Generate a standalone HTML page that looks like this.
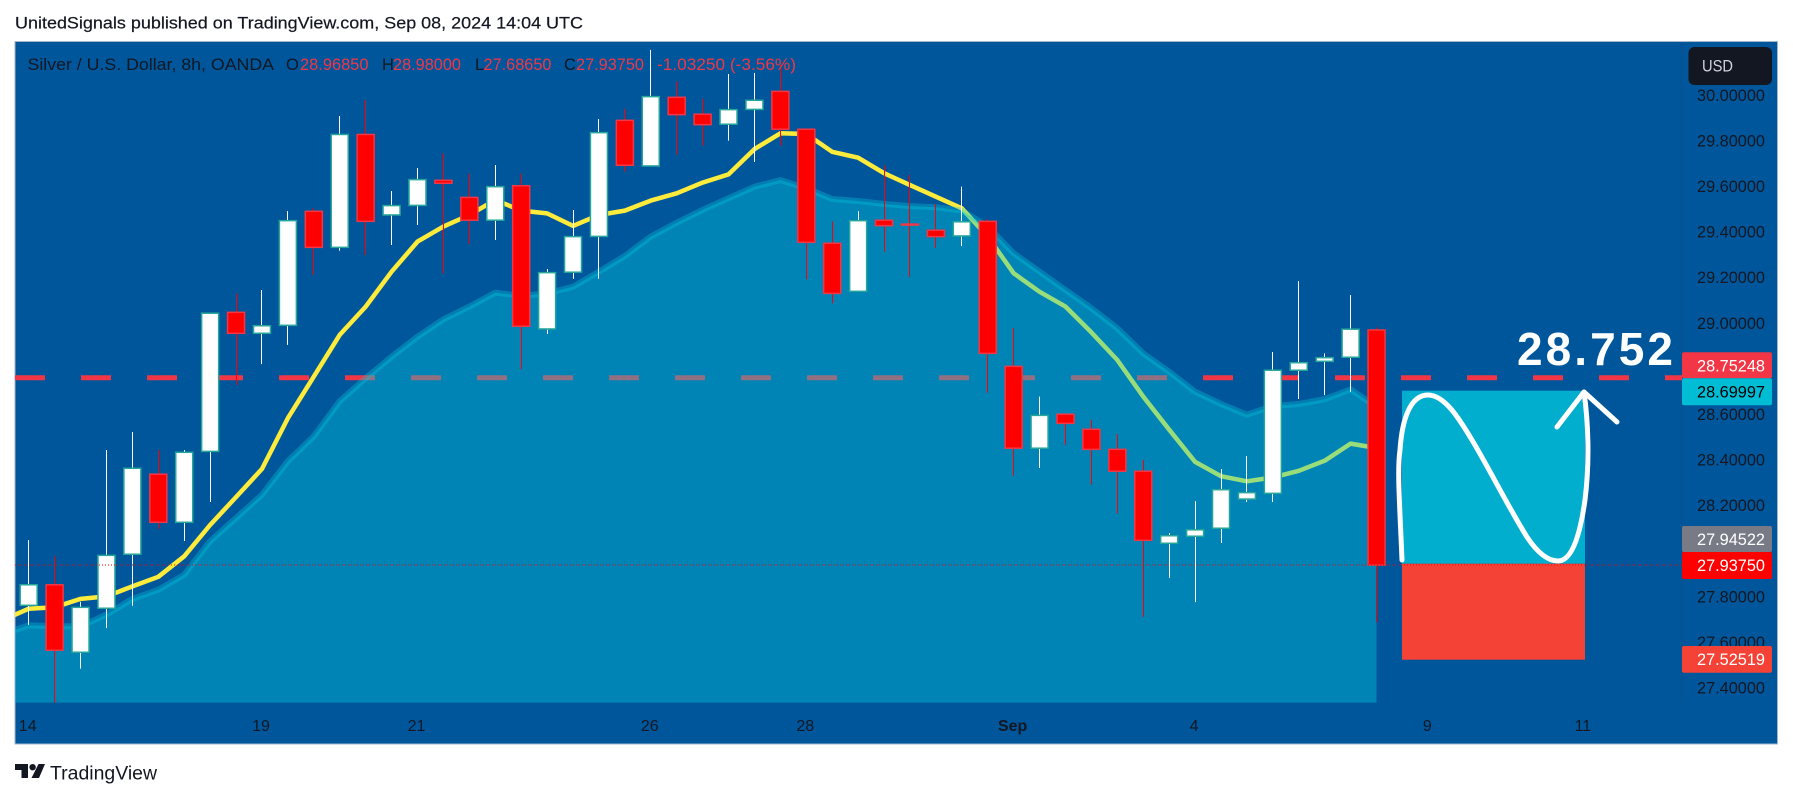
<!DOCTYPE html>
<html lang="en">
<head>
<meta charset="utf-8">
<title>Silver / U.S. Dollar, 8h, OANDA</title>
<style>
html,body{margin:0;padding:0;background:#fff;width:1793px;height:798px;overflow:hidden}
svg{display:block}
text{font-family:"Liberation Sans",sans-serif}
</style>
</head>
<body>
<svg id="chart" xmlns="http://www.w3.org/2000/svg" width="1793" height="798" viewBox="0 0 1793 798">
  <defs>
    <clipPath id="plot-clip"><rect x="15" y="41" width="1667" height="661.7"/></clipPath>
  </defs>
  <text x="15" y="28.5" font-size="16.5" fill="#131722" stroke="#131722" stroke-width="0.2" textLength="568" lengthAdjust="spacingAndGlyphs">UnitedSignals published on TradingView.com, Sep 08, 2024 14:04 UTC</text>
  <rect x="15" y="41.5" width="1762.5" height="702.5" fill="#00569b" stroke="#a3b6cb" stroke-width="1"/>
  <line x1="1682" y1="42" x2="1682" y2="702.7" stroke="#0a4f8c" stroke-width="1"/>
  <g id="under-layer" clip-path="url(#plot-clip)"></g>
  <g id="candle-layer" clip-path="url(#plot-clip)"></g>

  <rect x="1402" y="390.7" width="183" height="173" fill="#02aecd"/>
  <rect x="1402" y="563.7" width="183" height="96" fill="#f44336"/>
  <g id="top-layer"></g>
  <path fill="none" stroke="#fff" stroke-width="5" stroke-linecap="round" stroke-linejoin="round" d="M1402 560 C1400 510 1397 470 1400 450 C1402 420 1410 395 1428 395 C1445 395 1460 420 1472 440 C1490 470 1510 510 1527 537 C1537 552 1547 561 1558 561 C1572 561 1580 535 1585 500 C1590 460 1588 420 1584 392"/>
  <path fill="none" stroke="#fff" stroke-width="5" stroke-linecap="round" stroke-linejoin="round" d="M1557 427 L1584 392 L1617 422"/>
  <text x="1517" y="365" font-size="46" font-weight="bold" fill="#fff" textLength="156" lengthAdjust="spacing">28.752</text>

  <g id="axis-layer"></g>

  <rect x="1682" y="352.3" width="90" height="26" rx="2" fill="#f23645"/>
  <text x="1697" y="371.5" font-size="16.5" fill="#fff" textLength="68" lengthAdjust="spacingAndGlyphs">28.75248</text>
  <rect x="1682" y="378.3" width="90" height="27" rx="2" fill="#00bcd4"/>
  <text x="1697" y="397.5" font-size="16.5" fill="#000" textLength="68" lengthAdjust="spacingAndGlyphs">28.69997</text>
  <rect x="1682" y="526" width="90" height="26" rx="2" fill="#787b86"/>
  <text x="1697" y="545" font-size="16.5" fill="#fff" textLength="68" lengthAdjust="spacingAndGlyphs">27.94522</text>
  <rect x="1682" y="552" width="90" height="27" rx="2" fill="#ff0000"/>
  <text x="1697" y="571" font-size="16.5" fill="#fff" textLength="68" lengthAdjust="spacingAndGlyphs">27.93750</text>
  <rect x="1682" y="646" width="90" height="26.7" rx="2" fill="#f44336"/>
  <text x="1697" y="665" font-size="16.5" fill="#fff" textLength="68" lengthAdjust="spacingAndGlyphs">27.52519</text>

  <g font-size="16.5">
    <text x="27.5" y="70" fill="#131722" textLength="246.5" lengthAdjust="spacingAndGlyphs">Silver / U.S. Dollar, 8h, OANDA</text>
    <text x="286" y="70" fill="#131722">O</text>
    <text x="300" y="70" fill="#f23645" textLength="68.5" lengthAdjust="spacingAndGlyphs">28.96850</text>
    <text x="382" y="70" fill="#131722">H</text>
    <text x="393" y="70" fill="#f23645" textLength="68" lengthAdjust="spacingAndGlyphs">28.98000</text>
    <text x="475" y="70" fill="#131722">L</text>
    <text x="483.5" y="70" fill="#f23645" textLength="68" lengthAdjust="spacingAndGlyphs">27.68650</text>
    <text x="564" y="70" fill="#131722">C</text>
    <text x="576" y="70" fill="#f23645" textLength="68" lengthAdjust="spacingAndGlyphs">27.93750</text>
    <text x="657" y="70" fill="#f23645" textLength="139" lengthAdjust="spacingAndGlyphs">-1.03250 (-3.56%)</text>
  </g>

  <g>
    <rect x="1688.5" y="47" width="83.5" height="38" rx="6" fill="#131722"/>
    <text x="1702" y="71.5" font-size="16.5" fill="#d1d4dc" textLength="31" lengthAdjust="spacingAndGlyphs">USD</text>
  </g>

  <g>
    <path d="M15 764h13v14h-6.5v-8H15z" fill="#131722"/>
    <circle cx="32.6" cy="767.2" r="3.2" fill="#131722"/>
    <path d="M38.5 764H45l-6 14h-7.5z" fill="#131722"/>
    <text x="50" y="779.5" font-size="19" fill="#131722" textLength="107" lengthAdjust="spacingAndGlyphs">TradingView</text>
  </g>
</svg>
<script>
const opens = [27.761,27.851,27.555,27.748,27.985,28.336,28.125,28.436,29.046,28.954,28.989,29.489,29.331,29.826,29.473,29.515,29.625,29.550,29.450,29.601,28.973,29.222,29.379,29.888,29.688,29.989,29.915,29.871,29.936,30.015,29.849,29.349,29.138,29.450,29.433,29.406,29.381,29.445,28.809,28.450,28.599,28.533,28.445,28.349,28.033,28.064,28.099,28.227,28.252,28.792,28.831,28.849,28.9685];
const highs = [28.047,27.976,27.776,28.442,28.521,28.442,28.442,29.044,29.129,29.144,29.490,29.503,29.907,29.977,29.578,29.679,29.743,29.654,29.692,29.654,29.236,29.495,29.894,29.938,30.197,30.059,29.982,30.091,30.096,30.131,29.852,29.445,29.490,29.692,29.648,29.521,29.597,29.454,28.977,28.676,28.600,28.574,28.512,28.398,28.078,28.218,28.359,28.416,28.872,29.183,28.866,29.122,28.98];
const lows = [27.675,27.330,27.483,27.661,27.759,28.096,28.043,28.214,28.727,28.819,28.903,29.210,29.316,29.297,29.341,29.429,29.217,29.346,29.363,28.796,28.951,29.193,29.193,29.663,29.688,29.736,29.777,29.799,29.705,29.777,29.191,29.086,29.138,29.312,29.202,29.329,29.337,28.693,28.329,28.363,28.465,28.290,28.163,27.710,27.881,27.775,28.034,28.214,28.214,28.666,28.683,28.697,27.6865];
const closes = [27.851,27.564,27.752,27.980,28.362,28.125,28.432,29.042,28.954,28.987,29.448,29.331,29.826,29.445,29.514,29.628,29.612,29.450,29.597,28.985,29.220,29.378,29.834,29.691,29.992,29.913,29.869,29.935,29.976,29.849,29.353,29.129,29.448,29.426,29.431,29.378,29.443,28.866,28.450,28.594,28.559,28.445,28.349,28.046,28.066,28.092,28.268,28.255,28.792,28.825,28.847,28.972,27.9375];
// Moving averages: the first value sits one bar left of the first candle
const fastEma = [27.696,27.746,27.752,27.789,27.800,27.844,27.886,27.976,28.113,28.236,28.359,28.582,28.764,28.947,29.071,29.224,29.356,29.422,29.473,29.539,29.492,29.480,29.425,29.473,29.492,29.536,29.568,29.615,29.651,29.762,29.831,29.828,29.750,29.724,29.656,29.604,29.553,29.502,29.378,29.217,29.136,29.071,28.958,28.837,28.676,28.531,28.390,28.327,28.305,28.322,28.351,28.395,28.470,28.451];
const slowEma = [27.635,27.673,27.669,27.669,27.720,27.789,27.829,27.895,28.042,28.144,28.246,28.393,28.502,28.656,28.757,28.851,28.939,29.015,29.071,29.132,29.118,29.129,29.158,29.224,29.293,29.378,29.439,29.495,29.546,29.597,29.626,29.590,29.543,29.534,29.521,29.512,29.507,29.492,29.422,29.305,29.224,29.144,29.064,28.976,28.866,28.785,28.698,28.644,28.597,28.635,28.644,28.665,28.708,28.631];
const priceTicks = ["30.00000","29.80000","29.60000","29.40000","29.20000","29.00000","28.60000","28.40000","28.20000","27.80000","27.60000","27.40000"];
const timeLabels = ["14","19","21","26","28","Sep","4","9","11"];
const timeBars = [0,9,15,24,30,38,45,54,60];
const resistanceLevel = 28.759;
const lastClose = 27.9375;

const NS = 'http://www.w3.org/2000/svg';
function xScale(i){ return 28.7 + 25.92 * i; }
function yScale(p){ return 322.8 + (29 - p) * 228; }
function make(tag, attrs, parent){
  const el = document.createElementNS(NS, tag);
  for (const k in attrs) el.setAttribute(k, attrs[k]);
  parent.appendChild(el);
  return el;
}
function pathOf(values){
  return values.map((v, i) => (i ? 'L' : 'M') + xScale(i - 1).toFixed(1) + ' ' + yScale(v).toFixed(1)).join(' ');
}
const under = document.getElementById('under-layer');
const candleLayer = document.getElementById('candle-layer');
const topLayer = document.getElementById('top-layer');
const axisLayer = document.getElementById('axis-layer');

const fastLine = make('path', {d: pathOf(fastEma), fill: 'none', stroke: '#ffeb3b', 'stroke-width': 4.5, 'stroke-linejoin': 'round'}, under);



const dash = make('line', {x1: 15, x2: 1682, y1: yScale(resistanceLevel), y2: yScale(resistanceLevel), stroke: '#f23645', 'stroke-width': 5, 'stroke-dasharray': '30 36'}, under);



const lastX = xScale(slowEma.length - 2);
const area = make('path', {d: pathOf(slowEma) + ' L' + lastX.toFixed(1) + ' 702.7 L2 702.7 Z', fill: 'rgb(0,201,220)', 'fill-opacity': 0.4}, under);



const areaLine = make('path', {d: pathOf(slowEma), fill: 'none', stroke: 'rgb(0,201,220)', 'stroke-opacity': 0.35, 'stroke-width': 6, 'stroke-linejoin': 'round'}, under);



opens.forEach((o, i) => {
  const c = closes[i];
  const up = c >= o;
  const x = xScale(i);
  const g = make('g', {}, candleLayer);
  
  
  const wx = Math.floor(x) + 0.5;
  const wick = make('line', {x1: wx, x2: wx, y1: yScale(highs[i]), y2: yScale(lows[i]), stroke: up ? '#ffffff' : '#ff0000', 'stroke-width': 1}, g);
  
  
  const top = yScale(Math.max(o, c));
  const bottom = yScale(Math.min(o, c));
  const body = make('rect', {x: x - 8.5, y: top, width: 17, height: Math.max(bottom - top, 1), fill: up ? '#ffffff' : '#ff0000', stroke: up ? '#26a69a' : '#f23645', 'stroke-width': 1.5}, g);
  
  
});

const dotted = make('line', {x1: 15, x2: 1682, y1: yScale(lastClose), y2: yScale(lastClose), stroke: '#ff0000', 'stroke-width': 1, 'stroke-dasharray': '1 2'}, topLayer);



priceTicks.forEach(t => {
  const el = make('text', {x: 1697, y: yScale(parseFloat(t)) + 6, 'font-size': 16.5, fill: '#131722', textLength: 68, lengthAdjust: 'spacingAndGlyphs'}, axisLayer);
  
  
  el.textContent = t;
});
timeLabels.forEach((t, i) => {
  const el = make('text', {x: xScale(timeBars[i]) - 1, y: 731, 'font-size': 16, fill: '#131722', 'text-anchor': 'middle', 'font-weight': t === 'Sep' ? 'bold' : 'normal'}, axisLayer);
  
  
  el.textContent = t;
});
</script>
</body>
</html>
